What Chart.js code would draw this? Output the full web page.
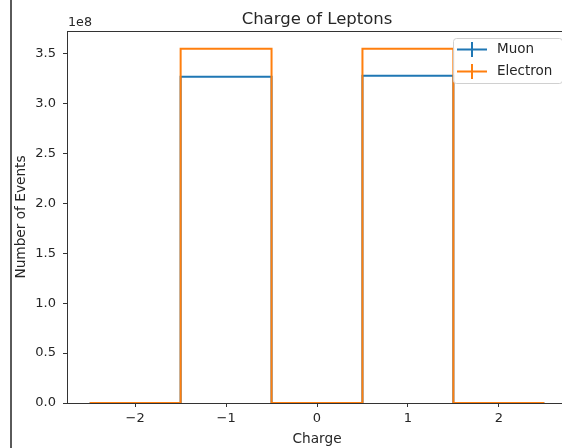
<!DOCTYPE html>
<html>
<head>
<meta charset="utf-8">
<script src="https://cdn.jsdelivr.net/npm/chart.js@4/dist/chart.umd.min.js"></script>
<style>
  html, body { margin: 0; padding: 0; background: #fff; overflow: hidden; }
  #wrap { position: relative; width: 562px; height: 448px; overflow: hidden; }
  canvas { position: absolute; left: 0; top: 0; }
</style>
</head>
<body>
<div id="wrap"><canvas id="c" width="620" height="448"></canvas></div>
<script>
// Histogram of lepton charge: bin edges and counts per bin
const binEdges = [-2.5, -1.5, -0.5, 0.5, 1.5, 2.5];
const muonCounts = [0, 327000000, 0, 328000000, 0];
const electronCounts = [0, 355000000, 0, 355000000, 0];

// Axis ticks
const xTicks = [-2, -1, 0, 1, 2];
const yTicks = [0, 50000000, 100000000, 150000000, 200000000, 250000000, 300000000, 350000000];
const yExponent = 8;

const FONT = '"DejaVu Sans", "Liberation Sans", sans-serif';
const BLUE = '#1f77b4';
const ORANGE = '#ff7f0e';
const INK = '#262626';
const SPINE = '#333333';

// Step outline: one point per left edge plus the closing right edge
function stepPoints(edges, counts) {
  const pts = counts.map((c, i) => ({ x: edges[i], y: c }));
  pts.push({ x: edges[edges.length - 1], y: counts[counts.length - 1] });
  return pts;
}

const decor = {
  id: 'decor',
  afterDraw(chart) {
    const { ctx, chartArea: a } = chart;
    ctx.save();
    // page frame on the left
    ctx.strokeStyle = '#5a5a5a';
    ctx.lineWidth = 2;
    ctx.beginPath();
    ctx.moveTo(11, 0); ctx.lineTo(11, 448);
    ctx.stroke();

    // spines
    ctx.strokeStyle = SPINE;
    ctx.lineWidth = 1;
    ctx.strokeRect(Math.round(a.left) + 0.5, Math.round(a.top) + 0.5,
                   Math.round(a.right - a.left), Math.round(a.bottom - a.top));

    // title
    ctx.fillStyle = INK;
    ctx.textAlign = 'center';
    ctx.textBaseline = 'alphabetic';
    ctx.font = '16.5px ' + FONT;
    ctx.fillText('Charge of Leptons', (a.left + a.right) / 2, a.top - 7);

    // offset text of the y axis
    ctx.textAlign = 'left';
    ctx.font = '12.7px ' + FONT;
    ctx.fillText('1e' + yExponent, a.left + 1, a.top - 5);

    // axis labels
    ctx.font = '13.7px ' + FONT;
    ctx.textAlign = 'center';
    ctx.fillText('Charge', (a.left + a.right) / 2, 443);
    ctx.save();
    ctx.translate(25, (a.top + a.bottom) / 2);
    ctx.rotate(-Math.PI / 2);
    ctx.fillText('Number of Events', 0, 0);
    ctx.restore();

    // legend
    const lx = 453, ly = 38, lw = 109, lh = 45;
    ctx.fillStyle = 'rgba(255,255,255,0.8)';
    ctx.strokeStyle = '#d0d0d0';
    ctx.lineWidth = 1;
    ctx.beginPath();
    ctx.roundRect(lx + 0.5, ly + 0.5, lw, lh, 3);
    ctx.fill();
    ctx.stroke();
    const entries = [['Muon', BLUE, 49.5], ['Electron', ORANGE, 71.5]];
    ctx.font = '13.5px ' + FONT;
    ctx.textAlign = 'left';
    ctx.textBaseline = 'middle';
    for (const [label, color, y] of entries) {
      ctx.strokeStyle = color;
      ctx.lineWidth = 2;
      ctx.beginPath();
      ctx.moveTo(457, y); ctx.lineTo(487, y);
      ctx.moveTo(472, y - 7.5); ctx.lineTo(472, y + 7.5);
      ctx.stroke();
      ctx.fillStyle = INK;
      ctx.fillText(label, 497, y);
    }
    ctx.restore();
  }
};

new Chart(document.getElementById('c'), {
  type: 'line',
  data: {
    datasets: [
      {
        label: 'Muon',
        data: stepPoints(binEdges, muonCounts),
        borderColor: BLUE,
        borderWidth: 2,
        stepped: 'before',
        pointRadius: 0,
        fill: false,
        order: 1,
        clip: 4
      },
      {
        label: 'Electron',
        data: stepPoints(binEdges, electronCounts),
        borderColor: ORANGE,
        borderWidth: 2,
        stepped: 'before',
        pointRadius: 0,
        fill: false,
        order: 0,
        clip: 4
      }
    ]
  },
  options: {
    responsive: false,
    animation: false,
    devicePixelRatio: 1,
    layout: { padding: { left: 0, top: 31, right: 53, bottom: 0 } },
    plugins: { legend: { display: false }, title: { display: false }, tooltip: { enabled: false } },
    scales: {
      x: {
        type: 'linear',
        min: -2.75,
        max: 2.75,
        afterFit(s) { s.height = 45; },
        afterBuildTicks(s) { s.ticks = xTicks.map(v => ({ value: v })); },
        border: { display: false },
        grid: { drawOnChartArea: false, drawTicks: true, tickLength: 4, tickColor: SPINE, tickWidth: 1 },
        ticks: {
          color: INK,
          font: { family: FONT, size: 13 },
          padding: 4,
          maxRotation: 0,
          callback: v => (v < 0 ? '\u2212' + Math.abs(v) : String(v))
        }
      },
      y: {
        type: 'linear',
        min: 0,
        max: 372750000,
        afterFit(s) { s.width = 67; },
        afterBuildTicks(s) { s.ticks = yTicks.map(v => ({ value: v })); },
        border: { display: false },
        grid: { drawOnChartArea: false, drawTicks: true, tickLength: 4, tickColor: SPINE, tickWidth: 1 },
        ticks: {
          color: INK,
          font: { family: FONT, size: 13 },
          padding: 7,
          callback: v => (v / Math.pow(10, yExponent)).toFixed(1)
        }
      }
    }
  },
  plugins: [decor]
});
</script>
</body>
</html>
